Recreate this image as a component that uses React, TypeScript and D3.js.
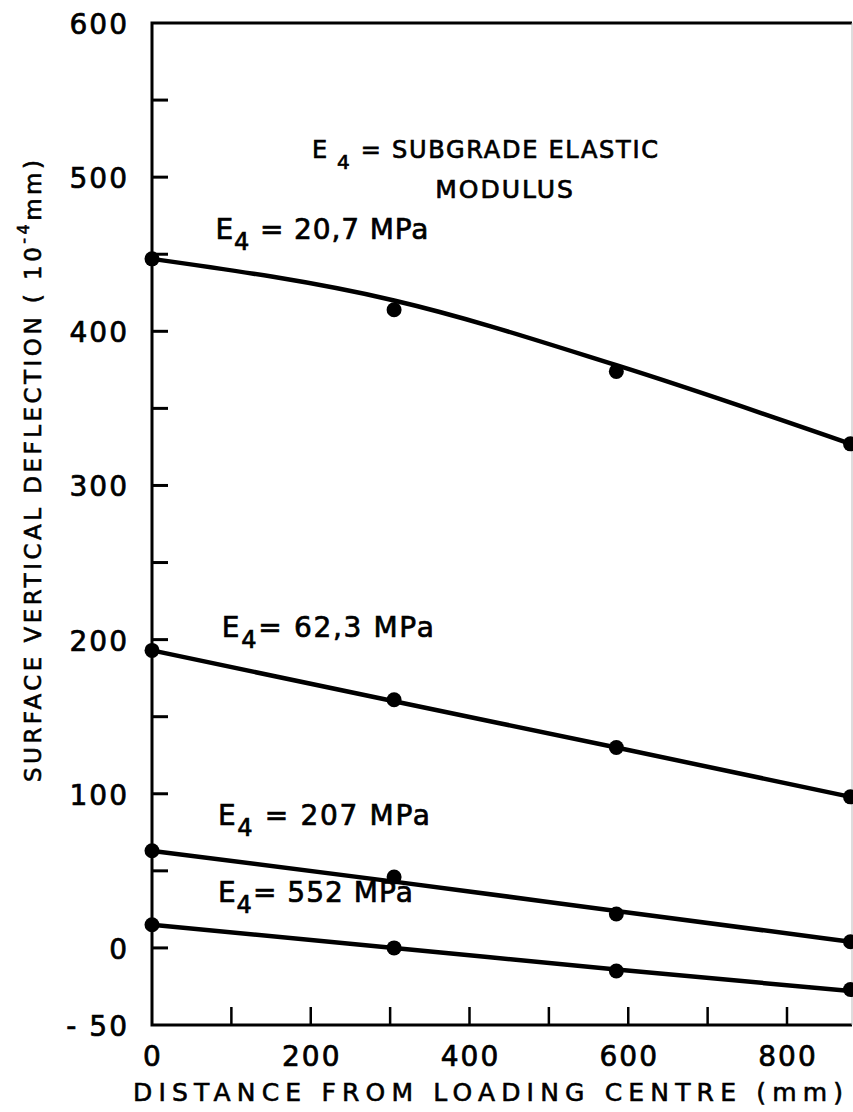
import React, { useEffect, useRef } from 'react';
import * as d3 from 'd3';

// distance from loading centre (mm) of the measured points
const distances = [0, 305, 585, 880];

// subgrade modulus of each curve (label text)
const moduli = ['20,7', '62,3', '207', '552'];

// measured surface deflections (10^-4 mm), one list per modulus
const deflection20 = [447, 414, 374, 327];
const deflection62 = [193, 161, 130, 98];
const deflection207 = [63, 46, 22, 4];
const deflection552 = [15, 0, -15, -27];

// drawn trend lines at the same distances
const trend20 = [447, 420, 378, 327];
const trend62 = [193, 160, 130, 98];
const trend207 = [63, 43, 24, 4];
const trend552 = [15, 0, -14, -28];

const yTickLabels = [-50, 0, 100, 200, 300, 400, 500, 600];
const yMinorTicks = [0, 50, 100, 150, 200, 250, 300, 350, 400, 450, 500, 550];
const xTickLabels = [0, 200, 400, 600, 800];
const xMinorTicks = [100, 200, 300, 400, 500, 600, 700, 800];

const FONT = '"DejaVu Sans", sans-serif';

function drawChart(node: SVGSVGElement) {
  const svg = d3.select(node);
  svg.selectAll('*').remove();

  const x = d3.scaleLinear().domain([0, 800]).range([152, 787]);
  const y = d3.scaleLinear().domain([-50, 600]).range([1025, 23]);
  const right = 852;

  const g = svg.append('g');

  const ink = (sel: any, w = 0.7) =>
    sel.style('font-family', FONT).attr('fill', '#000').attr('stroke', '#000').attr('stroke-width', w);

  // frame
  g.append('path')
    .attr('d', `M${right},${y(600)}H${x(0)}V${y(-50)}H${right}`)
    .attr('fill', 'none')
    .attr('stroke', '#000')
    .attr('stroke-width', 3);
  g.append('line')
    .attr('x1', right).attr('x2', right)
    .attr('y1', y(600)).attr('y2', y(-50))
    .attr('stroke', '#bbb')
    .attr('stroke-width', 1);

  // y ticks (inward)
  g.selectAll('.ytick')
    .data(yMinorTicks)
    .enter().append('line')
    .attr('x1', x(0)).attr('x2', x(0) + 16)
    .attr('y1', d => y(d)).attr('y2', d => y(d))
    .attr('stroke', '#000').attr('stroke-width', 3);

  ink(g.selectAll('.ylab')
    .data(yTickLabels)
    .enter().append('text')
    .attr('x', 129)
    .attr('y', d => y(d) + 11)
    .attr('text-anchor', 'end')
    .style('font-size', '28px')
    .style('letter-spacing', '2px')
    .text(d => (d < 0 ? '- ' + Math.abs(d) : String(d))));

  // x ticks (inward)
  g.selectAll('.xtick')
    .data(xMinorTicks)
    .enter().append('line')
    .attr('x1', d => x(d)).attr('x2', d => x(d))
    .attr('y1', y(-50)).attr('y2', y(-50) - 18)
    .attr('stroke', '#000').attr('stroke-width', 2.5);

  ink(g.selectAll('.xlab')
    .data(xTickLabels)
    .enter().append('text')
    .attr('x', d => x(d) + 1)
    .attr('y', 1066)
    .attr('text-anchor', 'middle')
    .style('font-size', '28px')
    .style('letter-spacing', '2px')
    .text(d => String(d)));

  // axis titles
  ink(g.append('text')
    .attr('x', 133)
    .attr('y', 1101)
    .attr('textLength', 710)
    .attr('lengthAdjust', 'spacing')
    .style('font-size', '25px')
    .text('DISTANCE FROM LOADING CENTRE (mm)'), 0.6);

  const yt = ink(g.append('text')
    .attr('transform', 'translate(41,782) rotate(-90)')
    .attr('textLength', 622)
    .attr('lengthAdjust', 'spacing')
    .style('font-size', '23px'), 0.6);
  yt.append('tspan').text('SURFACE VERTICAL DEFLECTION ( 10');
  yt.append('tspan').attr('dy', -12).style('font-size', '16px').text('-4');
  yt.append('tspan').attr('dy', 12).text('mm)');

  // trend lines and measured points
  const seriesPoints = [deflection20, deflection62, deflection207, deflection552];
  const seriesTrends = [trend20, trend62, trend207, trend552];

  const line = d3.line<number>()
    .x((_, i) => x(distances[i]))
    .y(d => y(d))
    .curve(d3.curveMonotoneX);

  const clip = svg.append('clipPath').attr('id', 'plotclip');
  clip.append('rect').attr('x', 0).attr('y', 0).attr('width', right + 1).attr('height', 1112);

  seriesTrends.forEach(t => {
    g.append('path')
      .attr('d', line(t))
      .attr('fill', 'none')
      .attr('stroke', '#000')
      .attr('stroke-width', 4.5)
      .attr('clip-path', 'url(#plotclip)');
  });

  seriesPoints.forEach(s => {
    g.selectAll(null)
      .data(s)
      .enter().append('circle')
      .attr('cx', (_, i) => x(distances[i]))
      .attr('cy', d => y(d))
      .attr('r', 7.5)
      .attr('fill', '#000')
      .attr('clip-path', 'url(#plotclip)');
  });

  // annotation helper: E with subscript 4
  const eLabel = (px: number, py: number, gap: string, rest: string, len?: number, size = 28) => {
    const t = ink(g.append('text')
      .attr('x', px)
      .attr('y', py)
      .style('font-size', `${size}px`)
      .style('letter-spacing', '2px'));
    if (len) t.attr('textLength', len).attr('lengthAdjust', 'spacing');
    t.append('tspan').text('E');
    t.append('tspan').attr('dy', 11).style('font-size', `${size - 4}px`).text(gap + '4');
    t.append('tspan').attr('dy', -11).text(rest);
    return t;
  };

  eLabel(312, 158, ' ', ' = SUBGRADE ELASTIC', 348, 24);
  ink(g.append('text')
    .attr('x', 505)
    .attr('y', 198)
    .attr('text-anchor', 'middle')
    .style('font-size', '25px')
    .style('letter-spacing', '2px')
    .text('MODULUS'));

  eLabel(x(80), y(460), '', ` = ${moduli[0]}  MPa`, 215);
  eLabel(x(88), y(202), '', `=  ${moduli[1]}  MPa`, 214);
  eLabel(x(83), y(80), '', ` =  ${moduli[2]}  MPa`, 214);
  eLabel(x(83), y(30), '', `= ${moduli[3]} MPa`, 197);

  return svg.node();
}

const App = () => {
  const ref = useRef<SVGSVGElement>(null);
  useEffect(() => {
    if (ref.current) drawChart(ref.current);
  }, []);
  return (
    <svg
      ref={ref}
      width={853}
      height={1112}
      style={{ position: 'absolute', left: 0, top: 0, background: '#fff' }}
    />
  );
};

export default App;
